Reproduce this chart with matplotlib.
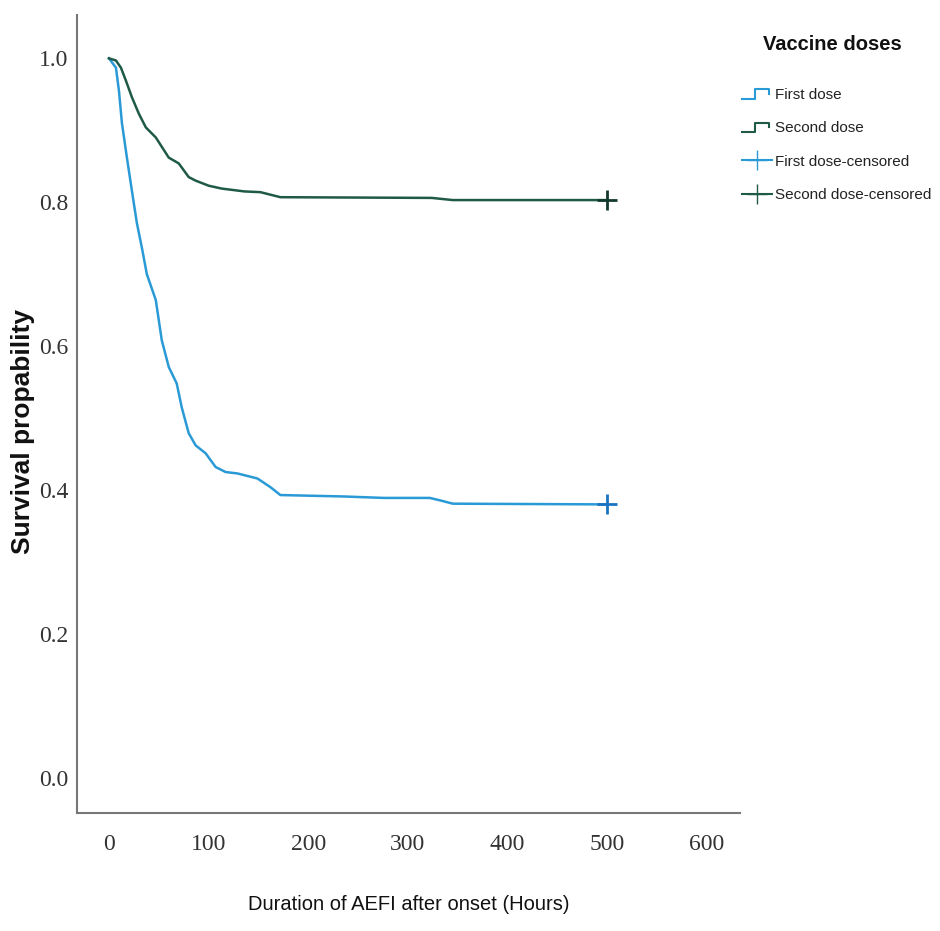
import matplotlib
matplotlib.use('Agg')
import matplotlib.pyplot as plt
from matplotlib.lines import Line2D
from matplotlib.legend_handler import HandlerBase

# Kaplan-Meier estimates
first_t = [0, 7, 10, 13, 18, 23, 28, 33, 38, 47, 53, 60, 68, 73, 80, 87, 97, 107,
           117, 129, 149, 162, 172, 236, 276, 322, 334, 345, 500]
first_s = [1.0, 0.987, 0.955, 0.91, 0.862, 0.816, 0.771, 0.737, 0.70, 0.664, 0.608,
           0.571, 0.548, 0.515, 0.479, 0.462, 0.451, 0.432, 0.425, 0.423, 0.416,
           0.404, 0.393, 0.391, 0.389, 0.389, 0.385, 0.381, 0.380]
second_t = [0, 7, 12, 17, 23, 30, 37, 47, 60, 70, 80, 87, 100, 113, 136, 152, 172,
            324, 345, 500]
second_s = [1.0, 0.997, 0.987, 0.969, 0.946, 0.923, 0.904, 0.890, 0.862, 0.854,
            0.835, 0.830, 0.823, 0.819, 0.815, 0.814, 0.807, 0.806, 0.803, 0.803]
cens_t = [500, 500]
cens_s = [0.380, 0.803]

labels = ['First dose', 'Second dose', 'First dose-censored', 'Second dose-censored']
c_first = '#2a9ad6'
c_second = '#1f5a48'

sans = ['Liberation Sans', 'DejaVu Sans']


class StepHandler(HandlerBase):
    def create_artists(self, legend, orig_handle, xdescent, ydescent, width, height,
                       fontsize, trans):
        w, h = width, height
        xs = [0, 0.45 * w, 0.45 * w, 0.9 * w, 0.9 * w]
        ys = [0.0, 0.0, 0.9 * h, 0.9 * h, 0.5 * h]
        ln = Line2D([x - xdescent for x in xs], [y - ydescent for y in ys],
                    color=orig_handle.get_color(), lw=1.5, transform=trans)
        return [ln]


fig = plt.figure(figsize=(9.4, 9.31), dpi=100)
ax = fig.add_axes([0.082, 0.1267, 0.705, 0.857])

ax.plot(first_t, first_s, color=c_first, lw=1.8)
ax.plot(second_t, second_s, color=c_second, lw=1.8)
ax.plot(cens_t[0], cens_s[0], marker='+', ms=14, mew=2, color='#1a73c0')
ax.plot(cens_t[1], cens_s[1], marker='+', ms=14, mew=2, color='#13392e')

ax.set_xlim(-32, 633)
ax.set_ylim(-0.049, 1.06)
ax.set_xticks([0, 100, 200, 300, 400, 500, 600])
ax.set_yticks([0.0, 0.2, 0.4, 0.6, 0.8, 1.0])
ax.set_yticklabels(['0.0', '0.2', '0.4', '0.6', '0.8', '1.0'])
ax.tick_params(length=0, labelsize=17)
ax.tick_params(axis='x', pad=15)
ax.tick_params(axis='y', pad=6)
for lab in ax.get_xticklabels() + ax.get_yticklabels():
    lab.set_family('Liberation Serif')
    lab.set_color('#333333')

for s in ['top', 'right']:
    ax.spines[s].set_visible(False)
for s in ['left', 'bottom']:
    ax.spines[s].set_color('#777777')
    ax.spines[s].set_linewidth(1.5)

fig.text(0.435, 0.028, 'Duration of AEFI after onset (Hours)', ha='center', va='center',
         fontsize=14.5, family=sans, color='#111111')
fig.text(0.024, 0.536, 'Survival propability', ha='center', va='center', rotation=90,
         fontsize=19, fontweight='bold', family=sans, color='#111111')

# legend title drawn separately so its gap to the entries matches
fig.text(0.885, 1 - 45 / 931, 'Vaccine doses', ha='center', va='center',
         fontsize=14.5, fontweight='bold', family=sans, color='#111111')

h1 = Line2D([], [], color=c_first)
h2 = Line2D([], [], color=c_second)
h3 = Line2D([], [], color=c_first, marker='+', ms=14, lw=1.5)
h4 = Line2D([], [], color=c_second, marker='+', ms=14, lw=1.5)
leg = fig.legend([h1, h2, h3, h4], labels, loc='upper left',
                 bbox_to_anchor=(0.789, 1 - 88 / 931), frameon=False,
                 handler_map={h1: StepHandler(), h2: StepHandler()},
                 handlelength=2.0, handletextpad=0.2, labelspacing=1.27,
                 borderaxespad=0, borderpad=0,
                 prop={'family': sans, 'size': 11})
for t in leg.get_texts():
    t.set_color('#222222')

fig.savefig('out.png', dpi=100, facecolor='white')
